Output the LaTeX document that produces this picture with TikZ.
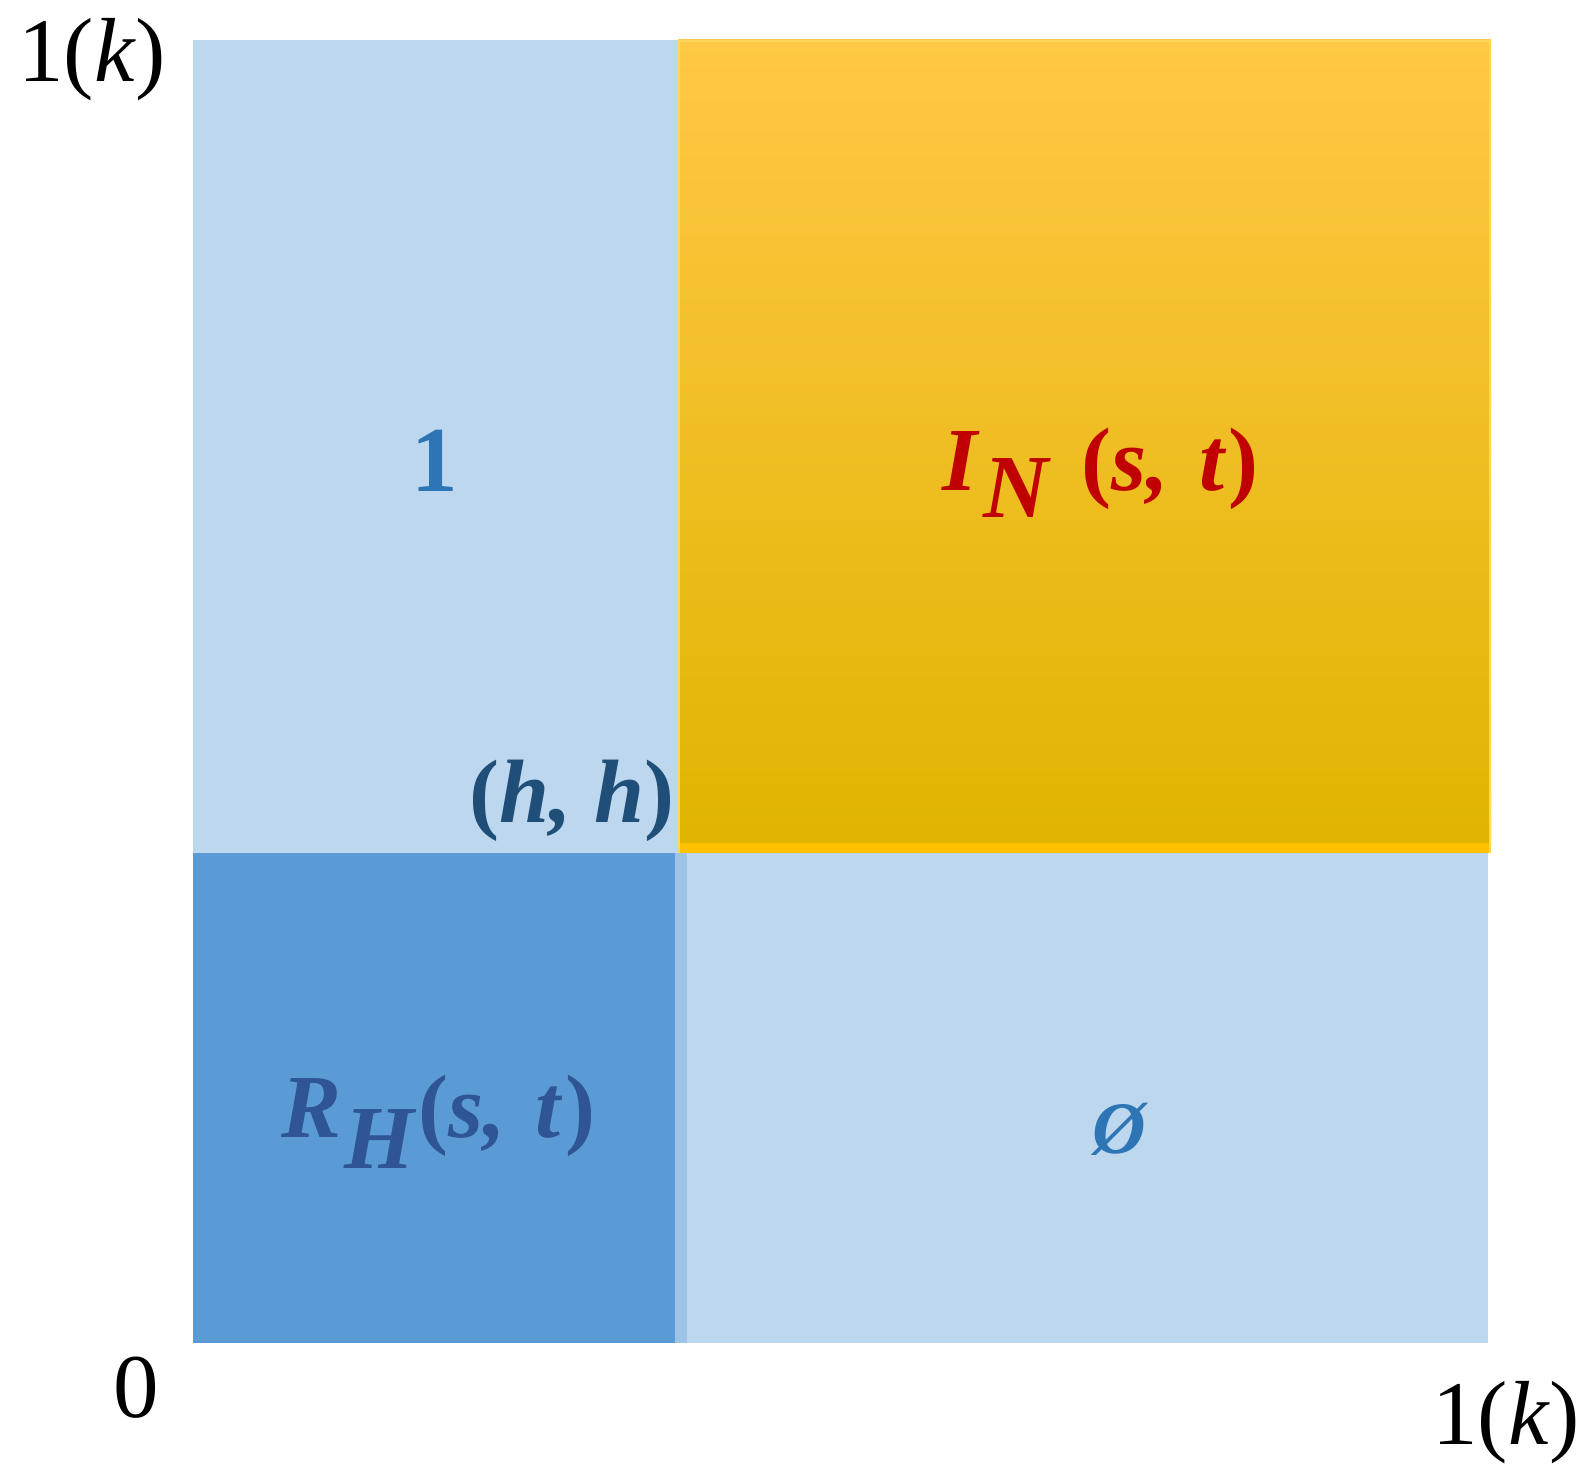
\documentclass[tikz,border=0pt]{standalone}
\usepackage{fontspec}
\setmainfont{Liberation Serif}
\definecolor{lightb}{HTML}{BDD7EE}
\definecolor{darkb}{HTML}{5B9BD5}
\definecolor{midb}{HTML}{9DC3E6}
\definecolor{orTop}{RGB}{255,200,70}
\definecolor{orMid}{RGB}{255,200,0}
\definecolor{orBot}{RGB}{224,180,0}
\definecolor{orEdge}{RGB}{255,214,90}
\definecolor{orStrip}{RGB}{255,192,0}
\definecolor{oneblue}{HTML}{2E75B6}
\definecolor{inred}{HTML}{C00000}
\definecolor{rhblue}{HTML}{2F5597}
\definecolor{hhblue}{HTML}{1F4E79}
\newcommand{\upp}[1]{{\upshape #1}}
\tikzset{
  axislabel/.style={anchor=base west, inner sep=0pt, font=\fontsize{91}{110}\selectfont},
  biglabel/.style={anchor=base west, inner sep=0pt, font=\fontsize{90}{105}\selectfont\bfseries\itshape},
}
\begin{document}
\begin{tikzpicture}[x=1pt,y=-1pt]
\useasboundingbox (0,0) rectangle (1585,1479);
\fill[white] (0,0) rectangle (1585,1479);
% regions
\fill[lightb] (193,40) rectangle (678,853);
\shade[top color=orTop, middle color=orMid, bottom color=orBot] (678,40) rectangle (1491,845);
\fill[orStrip] (678,843) rectangle (1491,853);
\draw[orEdge, line width=2pt] (679,853) -- (679,41) -- (1490,41) -- (1490,853);
\fill[darkb] (193,853) rectangle (675,1343);
\fill[midb] (675,853) rectangle (687,1343);
\fill[lightb] (687,853) rectangle (1488,1343);
% axis labels
\node[axislabel] (ytop) at (18,82) {1(\textit{k})};
\node[axislabel] (zero) at (113,1417) {0};
\node[axislabel] (xright) at (1432,1444) {1(\textit{k})};
% region labels
\node[anchor=base west, inner sep=0pt, text=oneblue, font=\fontsize{93}{105}\selectfont\bfseries] (one) at (411,491) {1};
\node[biglabel, text=inred] (in) at (942,490) {I\kern6pt\raisebox{-27pt}{N} \kern11pt\upp{(}s, \kern8pt t\kern4pt\upp{)}};
\node[biglabel, text=rhblue] (rh) at (281,1137) {R\kern3pt\raisebox{-31pt}{H}\kern4pt\upp{(}s, \kern7pt t\kern5pt\upp{)}};
\node[biglabel, text=hhblue] (hh) at (469,822) {\upp{(}h, h\upp{)}};
\node[anchor=base, inner sep=0pt, text=oneblue, font=\fontsize{74}{90}\selectfont\bfseries\itshape] (empty) at (1119,1153) {Ø};
\end{tikzpicture}
\end{document}
